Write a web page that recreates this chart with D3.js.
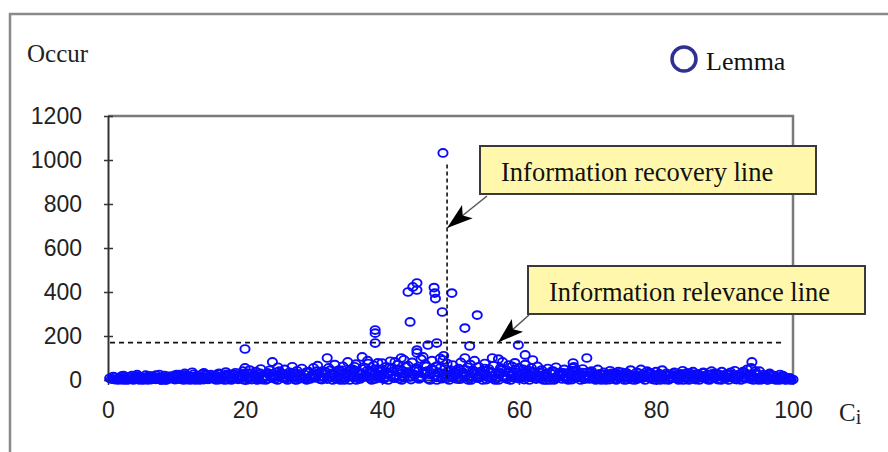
<!DOCTYPE html>
<html>
<head>
<meta charset="utf-8">
<script src="https://cdn.jsdelivr.net/npm/d3@7"></script>
<style>
    body { margin: 0; background: #fff; }
    svg { display: block; }
</style>
</head>
<body>
<div id="myDataVis"></div>
<script>
// Chart data: [Ci, Occur] pairs, grouped by Ci range
const lemma0to10 = [[1,2],[1.5,6],[2,10],[2.5,3],[3,14],[3.4,4],[4,8],[4.5,1],[5,12],[5.5,5],[6,18],[6.3,2],[6.8,9],[7,22],[7.5,4],[8,11],[8.4,1],[8.8,16],[9.2,6],[9.6,20],[10,3],[3.7,0],[5.8,0],[7.8,0],[9.9,12],[2.2,0],[4.2,17],[6.6,13]];
const lemma10to20 = [[10.4,25],[10.8,8],[11.2,30],[11.5,2],[11.9,14],[12.3,35],[12.6,5],[13,20],[13.4,0],[13.8,28],[14.2,10],[14.6,3],[15,24],[15.4,16],[15.8,0],[16.2,30],[16.6,7],[17,18],[17.4,2],[17.8,26],[18.2,12],[18.6,33],[19,5],[19.4,20],[19.7,40],[19.9,0],[11,0],[12,17],[14,32],[16,12],[18,0],[17.2,36]];
const lemma20to30 = [[20,141],[20,55],[20.2,30],[20.4,10],[20.7,45],[21,2],[21.3,22],[21.6,38],[22,8],[22.3,50],[22.6,15],[23,0],[23.3,32],[23.6,44],[24,82],[24.1,20],[24.4,5],[24.8,58],[25.1,28],[25.5,12],[25.8,48],[26.2,0],[26.5,35],[26.9,60],[27.2,18],[27.6,42],[28,6],[28.3,52],[28.7,25],[29,0],[29.3,38],[29.7,14],[30,55],[21.8,0],[25,40],[27,8]];
const lemma30to40 = [[30.3,20],[30.6,65],[31,3],[31.3,40],[31.6,12],[32,100],[32.2,55],[32.5,28],[32.8,0],[33.1,70],[33.4,18],[33.7,45],[34,8],[34.3,62],[34.6,30],[35,82],[35.3,0],[35.6,50],[35.9,15],[36.2,72],[36.5,35],[36.8,5],[37.1,105],[37.3,58],[37.6,22],[37.9,88],[38.2,40],[38.5,0],[38.8,66],[39,227],[39,213],[39,168],[39.1,30],[39.4,78],[39.7,10],[40,77],[40,50],[31.8,25],[33.9,0],[35.1,38],[36,60],[37,12],[38,75],[39.5,45],[34.8,20]];
const lemma40to50 = [[40.3,25],[40.6,60],[40.9,0],[41.2,85],[41.5,38],[41.9,82],[42,12],[42.3,70],[42.6,48],[42.9,0],[43.2,92],[43.5,30],[43.8,400],[43.8,65],[44.1,264],[44.1,15],[44.5,423],[44.4,80],[44.7,42],[45.1,441],[45.1,409],[45.1,136],[45.1,123],[45,55],[45.4,5],[45.7,95],[46,28],[46.3,72],[46.7,159],[46.6,40],[47,0],[47.3,88],[47.6,420],[47.7,395],[47.8,370],[47.6,20],[48,168],[47.9,62],[48.2,35],[48.5,98],[48.8,309],[48.9,1032],[48.9,91],[48.8,10],[49.2,50],[49.5,75],[49.8,0],[50,25],[41,55],[42.8,100],[44,35],[46,105],[48,0],[49,110],[43,18]];
const lemma50to60 = [[50.2,395],[50.3,68],[50.6,35],[50.9,5],[51.2,52],[51.5,80],[51.8,18],[52.1,236],[52.1,100],[52.3,45],[52.8,155],[52.6,0],[52.9,70],[53.2,28],[53.5,88],[53.9,295],[53.8,12],[54.1,60],[54.4,38],[54.7,0],[55,75],[55.3,22],[55.6,50],[56.1,100],[56,8],[56.3,65],[56.6,30],[57,0],[57.3,55],[57.6,82],[57.9,15],[58.2,45],[58.5,68],[58.8,0],[59.1,35],[59.4,78],[59.9,159],[59.7,20],[60,55],[51,30],[53,0],[55,42],[57,95],[59,62]];
const lemma60to70 = [[60.3,10],[60.6,48],[60.9,114],[60.9,70],[61.2,25],[61.5,0],[61.8,55],[62,91],[62.1,35],[62.4,8],[62.7,62],[63,20],[63.3,45],[63.6,0],[63.9,30],[64.2,52],[64.5,12],[64.8,40],[65.1,0],[65.4,58],[65.7,22],[66,35],[66.3,5],[66.6,48],[66.9,18],[67.2,0],[67.5,38],[67.9,77],[67.8,55],[68.1,10],[68.4,42],[68.7,25],[69,0],[69.3,50],[69.9,100],[69.6,15],[70,35],[61,40],[64,0],[66,30],[68,60]];
const lemma70to80 = [[70.3,5],[70.6,40],[70.9,18],[71.2,0],[71.5,48],[71.8,28],[72.1,8],[72.4,35],[72.7,0],[73,22],[73.3,42],[73.6,12],[73.9,30],[74.2,0],[74.5,38],[74.8,15],[75.1,25],[75.4,0],[75.7,32],[76,10],[76.3,45],[76.6,20],[76.9,0],[77.2,35],[77.5,8],[77.8,48],[78.1,25],[78.4,0],[78.7,40],[79,15],[79.3,30],[79.6,2],[80,38]];
const lemma80to90 = [[80.3,20],[80.6,0],[80.9,45],[81.2,12],[81.5,30],[81.8,0],[82.1,25],[82.4,8],[82.7,35],[83,18],[83.3,0],[83.6,28],[83.9,42],[84.2,10],[84.5,32],[84.8,0],[85.1,22],[85.4,38],[85.7,5],[86,28],[86.3,0],[86.6,18],[86.9,35],[87.2,8],[87.5,25],[87.8,0],[88.1,40],[88.4,15],[88.7,30],[89,2],[89.3,22],[89.6,38],[90,10]];
const lemma90to100 = [[90.3,28],[90.6,0],[90.9,35],[91.2,15],[91.5,42],[91.8,5],[92.1,25],[92.4,0],[92.7,38],[93,12],[93.3,48],[93.6,20],[94,82],[93.9,55],[94.2,0],[94.5,30],[94.8,10],[95.1,40],[95.4,2],[95.7,25],[96,15],[96.3,0],[96.6,30],[96.9,8],[97.2,20],[97.5,0],[97.8,12],[98.1,25],[98.4,3],[98.7,15],[99,0],[99.3,8],[99.6,2]];
// the crowded low band along the x axis
const lemmaLow0to25 = [[0.5,4],[1,12],[1.5,0],[2,18],[2.5,8],[3,2],[3.5,20],[4,5],[4.5,14],[5,0],[5.5,22],[6,7],[6.5,15],[7,3],[7.5,25],[8,9],[8.5,0],[9,17],[9.5,11],[10,24],[10.5,4],[11,19],[11.5,13],[12,0],[12.5,26],[13,8],[13.5,16],[14,2],[14.5,22],[15,11],[15.5,5],[16,27],[16.5,14],[17,0],[17.5,20],[18,9],[18.5,24],[19,3],[19.5,15],[20,22],[20.5,6],[21,30],[21.5,12],[22,25],[22.5,2],[23,18],[23.5,28],[24,9],[24.5,35],[25,15]];
const lemmaLow25to50 = [[25.5,24],[26,6],[26.5,18],[27,32],[27.5,0],[28,22],[28.5,12],[29,36],[29.5,5],[30,26],[30.5,40],[31,15],[31.5,30],[32,4],[32.5,45],[33,22],[33.5,10],[34,38],[34.5,0],[35,28],[35.5,16],[36,44],[36.5,8],[37,30],[37.5,52],[38,18],[38.5,36],[39,5],[39.5,25],[40,40],[40.5,12],[41,30],[41.5,55],[42,22],[42.5,6],[43,42],[43.5,60],[44,15],[44.5,28],[45,48],[45.5,10],[46,35],[46.5,62],[47,25],[47.5,45],[48,12],[48.5,55],[49,30],[49.5,8],[50,45]];
const lemmaLow50to75 = [[50.5,15],[51,40],[51.5,5],[52,28],[52.5,58],[53,18],[53.5,38],[54,8],[54.5,25],[55,52],[55.5,12],[56,35],[56.5,0],[57,25],[57.5,45],[58,10],[58.5,32],[59,20],[59.5,48],[60,6],[60.5,30],[61,15],[61.5,42],[62,22],[62.5,4],[63,35],[63.5,18],[64,28],[64.5,0],[65,40],[65.5,12],[66,22],[66.5,32],[67,5],[67.5,20],[68,38],[68.5,14],[69,28],[69.5,4],[70,22],[70.5,32],[71,10],[71.5,20],[72,0],[72.5,26],[73,14],[73.5,30],[74,6],[74.5,20],[75,35]];
const lemmaLow75to100 = [[75.5,12],[76,26],[76.5,2],[77,18],[77.5,30],[78,8],[78.5,22],[79,34],[79.5,12],[80,0],[80.5,28],[81,14],[81.5,20],[82,4],[82.5,30],[83,10],[83.5,22],[84,0],[84.5,16],[85,30],[85.5,8],[86,20],[86.5,12],[87,32],[87.5,2],[88,24],[88.5,10],[89,28],[89.5,0],[90,18],[90.5,12],[91,26],[91.5,4],[92,16],[92.5,30],[93,6],[93.5,22],[94,12],[94.5,40],[95,0],[95.5,18],[96,8],[96.5,24],[97,4],[97.5,14],[98,0],[98.5,20],[99,6],[99.5,10],[100,2]];
const lemmaFloor0to50 = [[0.25,8],[0.75,16],[1.25,3],[1.75,10],[2.25,20],[2.75,0],[3.25,12],[3.75,6],[4.25,24],[4.75,9],[5.25,2],[5.75,14],[6.25,18],[6.75,4],[7.25,11],[7.75,0],[8.25,20],[8.75,6],[9.25,13],[9.75,2],[10.25,17],[10.75,9],[11.25,22],[11.75,5],[12.25,12],[12.75,0],[13.25,18],[13.75,10],[14.25,25],[14.75,4],[15.25,14],[15.75,20],[16.25,2],[16.75,9],[17.25,24],[17.75,13],[18.25,4],[18.75,18],[19.25,10],[19.75,28],[20.25,0],[20.75,14],[21.25,20],[21.75,6],[22.25,30],[22.75,12],[23.25,4],[23.75,22],[24.25,15],[24.75,0],[25.25,32],[25.75,8],[26.25,24],[26.75,14],[27.25,2],[27.75,28],[28.25,18],[28.75,6],[29.25,34],[29.75,20],[30.25,10],[30.75,28],[31.25,2],[31.75,38],[32.25,16],[32.75,30],[33.25,6],[33.75,24],[34.25,44],[34.75,12],[35.25,20],[35.75,34],[36.25,0],[36.75,26],[37.25,14],[37.75,40],[38.25,8],[38.75,22],[39.25,50],[39.75,18],[40.25,4],[40.75,32],[41.25,20],[41.75,8],[42.25,46],[42.75,28],[43.25,10],[43.75,36],[44.25,2],[44.75,22],[45.25,40],[45.75,14],[46.25,28],[46.75,4],[47.25,50],[47.75,18],[48.25,32],[48.75,6],[49.25,24],[49.75,40]];
const lemmaFloor50to100 = [[50.25,12],[50.75,28],[51.25,4],[51.75,36],[52.25,20],[52.75,8],[53.25,44],[53.75,26],[54.25,14],[54.75,30],[55.25,2],[55.75,38],[56.25,18],[56.75,8],[57.25,32],[57.75,20],[58.25,4],[58.75,24],[59.25,10],[59.75,34],[60.25,18],[60.75,2],[61.25,28],[61.75,12],[62.25,36],[62.75,20],[63.25,6],[63.75,24],[64.25,14],[64.75,30],[65.25,4],[65.75,18],[66.25,26],[66.75,10],[67.25,30],[67.75,2],[68.25,20],[68.75,12],[69.25,34],[69.75,6],[70.25,18],[70.75,26],[71.25,4],[71.75,14],[72.25,22],[72.75,10],[73.25,2],[73.75,20],[74.25,28],[74.75,8],[75.25,16],[75.75,2],[76.25,22],[76.75,12],[77.25,4],[77.75,20],[78.25,14],[78.75,28],[79.25,6],[79.75,20],[80.25,10],[80.75,16],[81.25,2],[81.75,24],[82.25,12],[82.75,20],[83.25,4],[83.75,14],[84.25,26],[84.75,8],[85.25,16],[85.75,2],[86.25,24],[86.75,10],[87.25,18],[87.75,6],[88.25,28],[88.75,14],[89.25,4],[89.75,20],[90.25,8],[90.75,24],[91.25,12],[91.75,2],[92.25,18],[92.75,10],[93.25,28],[93.75,4],[94.25,16],[94.75,24],[95.25,8],[95.75,12],[96.25,2],[96.75,18],[97.25,8],[97.75,4],[98.25,12],[98.75,2],[99.25,6],[99.75,0]];

const xTicks = [0, 20, 40, 60, 80, 100];
const yTicks = [0, 200, 400, 600, 800, 1000, 1200];
const recoveryCi = 49.5;      // vertical dashed line
const relevanceOccur = 170;   // horizontal dashed line
const recoveryLabel = 'Information recovery line';
const relevanceLabel = 'Information relevance line';
const legendLabel = 'Lemma';
const yLabel = 'Occur';

let svg;
let xScale;
let yScale;
const pointColor = '#0a0aff';
const serif = '"Liberation Serif", "Times New Roman", serif';
const sans = '"Liberation Sans", Arial, sans-serif';

document.addEventListener('DOMContentLoaded', () => {
    init();
    drawScatter();
    drawAnnotations();
});

const init = () => {
    const width = 888, height = 452;

    svg = d3.select('#myDataVis')
        .append('svg')
        .attr('width', width)
        .attr('height', height);

    // outer frame (only top and left edges show)
    svg.append('path')
        .attr('d', 'M10,452 V14 H888')
        .attr('fill', 'none')
        .attr('stroke', '#8a8a8a')
        .attr('stroke-width', 2.5);

    xScale = d3.scaleLinear().domain([0, 100]).range([108, 793]);
    yScale = d3.scaleLinear().domain([0, 1200]).range([380, 116]);

    // plot box: top and right border
    svg.append('path')
        .attr('d', `M${xScale(0)},${yScale(1200)} H${xScale(100)} V${yScale(0)}`)
        .attr('fill', 'none')
        .attr('stroke', '#7a7a7a')
        .attr('stroke-width', 2.5);

    // Y axis
    const yAxis = d3.axisLeft(yScale).tickValues(yTicks).tickFormat(d3.format('d'))
        .tickSizeInner(4).tickSizeOuter(0).tickPadding(22);
    const yG = svg.append('g')
        .attr('transform', `translate(${xScale(0)},0)`)
        .call(yAxis);
    yG.selectAll('.tick line').attr('x2', -4).attr('x1', 5);

    // X axis
    const xAxis = d3.axisBottom(xScale).tickValues(xTicks).tickFormat(d3.format('d'))
        .tickSizeInner(4).tickSizeOuter(0).tickPadding(18);
    const xG = svg.append('g')
        .attr('transform', `translate(0,${yScale(0)})`)
        .call(xAxis);
    xG.selectAll('.tick line').attr('y1', -4).attr('y2', 5);

    [yG, xG].forEach(g => {
        g.select('.domain').attr('stroke', '#333').attr('stroke-width', 2);
        g.selectAll('.tick line').attr('stroke', '#333').attr('stroke-width', 1.5);
        g.selectAll('.tick text')
            .style('font-family', sans)
            .style('font-size', '23px')
            .attr('fill', '#222');
    });

    // axis titles
    svg.append('text')
        .attr('x', 27)
        .attr('y', 62)
        .style('font-family', serif)
        .style('font-size', '25px')
        .attr('fill', '#222')
        .text(yLabel);

    const ci = svg.append('text')
        .attr('x', 839)
        .attr('y', 421)
        .style('font-family', serif)
        .style('font-size', '25px')
        .attr('fill', '#222');
    ci.append('tspan').text('C');
    ci.append('tspan').attr('dy', 3).style('font-size', '20px').text('i');

    // legend
    svg.append('circle')
        .attr('cx', 684)
        .attr('cy', 59)
        .attr('r', 12)
        .attr('fill', 'none')
        .attr('stroke', '#2e3192')
        .attr('stroke-width', 3.5);

    svg.append('text')
        .attr('x', 706)
        .attr('y', 70)
        .style('font-family', serif)
        .style('font-size', '26px')
        .attr('fill', '#111')
        .text(legendLabel);
}

const drawScatter = () => {
    const allPoints = [].concat(lemmaFloor0to50, lemmaFloor50to100,
        lemmaLow0to25, lemmaLow25to50, lemmaLow50to75, lemmaLow75to100,
        lemma0to10, lemma10to20, lemma20to30, lemma30to40, lemma40to50,
        lemma50to60, lemma60to70, lemma70to80, lemma80to90, lemma90to100);

    svg.append('g')
        .selectAll('ellipse')
        .data(allPoints)
        .join('ellipse')
        .attr('cx', d => xScale(d[0]))
        .attr('cy', d => yScale(d[1]))
        .attr('rx', 4.6)
        .attr('ry', 3.9)
        .attr('fill', 'none')
        .attr('stroke', pointColor)
        .attr('stroke-width', 1.9);

    // reference lines
    svg.append('line')
        .attr('x1', xScale(0) + 2)
        .attr('x2', xScale(100) - 8)
        .attr('y1', yScale(relevanceOccur))
        .attr('y2', yScale(relevanceOccur))
        .attr('stroke', '#111')
        .attr('stroke-width', 1.6)
        .attr('stroke-dasharray', '5,4');

    svg.append('line')
        .attr('x1', xScale(recoveryCi))
        .attr('x2', xScale(recoveryCi))
        .attr('y1', yScale(980))
        .attr('y2', yScale(0))
        .attr('stroke', '#111')
        .attr('stroke-width', 1.6)
        .attr('stroke-dasharray', '4,3');
}

// call-out box with an arrow pointing at a reference line
const callout = (box, label, from, tip) => {
    const g = svg.append('g');
    g.append('line')
        .attr('x1', from[0]).attr('y1', from[1])
        .attr('x2', tip[0]).attr('y2', tip[1])
        .attr('stroke', '#555')
        .attr('stroke-width', 1.5);

    const dx = tip[0] - from[0], dy = tip[1] - from[1];
    const len = Math.sqrt(dx * dx + dy * dy);
    const ux = dx / len, uy = dy / len;
    const headLen = 26, headHalf = 8.5;
    const bx = tip[0] - ux * headLen, by = tip[1] - uy * headLen;
    g.append('path')
        .attr('d', `M${tip[0]},${tip[1]} L${bx - uy * headHalf},${by + ux * headHalf} L${bx + ux * 6},${by + uy * 6} L${bx + uy * headHalf},${by - ux * headHalf} Z`)
        .attr('fill', '#000');

    g.append('rect')
        .attr('x', box.x).attr('y', box.y)
        .attr('width', box.w).attr('height', box.h)
        .attr('fill', '#fff8ac')
        .attr('stroke', '#3a3a3a')
        .attr('stroke-width', 2);

    g.append('text')
        .attr('x', box.x + 21)
        .attr('y', box.y + 35)
        .style('font-family', serif)
        .style('font-size', '26.5px')
        .attr('fill', '#111')
        .text(label);
}

const drawAnnotations = () => {
    callout({x: 480, y: 146, w: 336, h: 48}, recoveryLabel,
        [487, 196], [xScale(recoveryCi), 228]);
    callout({x: 528, y: 266, w: 337, h: 48}, relevanceLabel,
        [529, 315], [498, yScale(relevanceOccur)]);
}
</script>
</body>
</html>
